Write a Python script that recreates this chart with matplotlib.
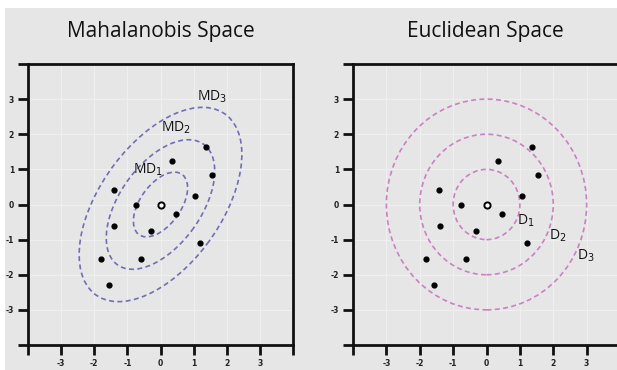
"""Mahalanobis vs Euclidean distance sketch."""
import numpy as np
from matplotlib import pyplot as plt
from matplotlib.patches import Ellipse, Rectangle

# sample points (same in both panels)
pts_x = [-1.41, -0.75, 1.05, 0.47, -1.40, -0.30, 1.20, -1.81, -0.60, -1.56, 0.35, 1.36, 1.54]
pts_y = [0.40, 0.00, 0.23, -0.28, -0.61, -0.76, -1.10, -1.54, -1.54, -2.29, 1.23, 1.63, 0.83]
center = (0.0, 0.0)

# covariance used for the Mahalanobis contours
cov = [[0.67, 0.39], [0.39, 0.85]]
levels = [1, 2, 3]

md_labels = ["MD$_1$", "MD$_2$", "MD$_3$"]
md_label_x = [-0.38, 0.47, 1.56]
md_label_y = [0.99, 2.18, 3.06]

d_labels = ["D$_1$", "D$_2$", "D$_3$"]
d_label_x = [1.19, 2.14, 2.99]
d_label_y = [-0.47, -0.90, -1.46]

ticks = [-4, -3, -2, -1, 0, 1, 2, 3, 4]
tick_labels = ["", "-3", "-2", "-1", "0", "1", "2", "3", ""]

BG = "#e6e6e6"
MD_COLOR = "#6f6fb4"
D_COLOR = "#cc80c4"
TITLE_FONT = ["Open Sans", "DejaVu Sans"]

fig = plt.figure(figsize=(6.17, 3.70), dpi=100, facecolor="white")
fig.patches.append(Rectangle((5 / 617, 0), 1, 1 - 8 / 370, transform=fig.transFigure,
                             facecolor=BG, edgecolor="none", zorder=-10))

ax_m = fig.add_axes([28 / 617, 1 - 345 / 370, 265 / 617, 281 / 370])
ax_e = fig.add_axes([353 / 617, 1 - 345 / 370, 267 / 617, 281 / 370])


def style_axes(ax):
    """Common look for both panels."""
    ax.set_facecolor(BG)
    ax.set_xlim(-4, 4)
    ax.set_ylim(-4, 4)
    ax.set_xticks(ticks)
    ax.set_yticks(ticks)
    ax.set_xticklabels(tick_labels)
    ax.set_yticklabels(tick_labels)
    ax.tick_params(length=7, width=2, color="#111111", labelsize=5.5, pad=3,
                   direction="out")
    for lab in ax.get_xticklabels() + ax.get_yticklabels():
        lab.set_fontweight("bold")
        lab.set_color("#222222")
    for sp in ax.spines.values():
        sp.set_linewidth(2)
        sp.set_color("#111111")
    ax.grid(True, color="#efefef", lw=0.8)
    ax.set_axisbelow(True)


def draw_points(ax):
    """Scatter the sample and the open centre point."""
    ax.scatter(pts_x, pts_y, s=12, color="black", zorder=3)
    ax.scatter(*center, s=20, facecolor="white", edgecolor="black", lw=1.4, zorder=3)


style_axes(ax_m)
style_axes(ax_e)

vals, vecs = np.linalg.eigh(np.array(cov))
angle = np.degrees(np.arctan2(vecs[1, 1], vecs[0, 1]))
for k in levels:
    ax_m.add_patch(Ellipse(center, 2 * k * np.sqrt(vals[1]), 2 * k * np.sqrt(vals[0]),
                           angle=angle, fill=False, ec=MD_COLOR, lw=1.2,
                           ls=(0, (3, 2))))
for k in levels:
    ax_e.add_patch(Ellipse(center, 2 * k, 2 * k, fill=False, ec=D_COLOR, lw=1.2,
                           ls=(0, (3, 2))))

draw_points(ax_m)
draw_points(ax_e)

for txt, x, y in zip(md_labels, md_label_x, md_label_y):
    ax_m.text(x, y, txt, ha="center", va="center", fontsize=10, family=TITLE_FONT,
              weight="medium", color="#111111")
for txt, x, y in zip(d_labels, d_label_x, d_label_y):
    ax_e.text(x, y, txt, ha="center", va="center", fontsize=10, family=TITLE_FONT,
              weight="medium", color="#111111")

fig.text(161 / 617, 1 - 32 / 370, "Mahalanobis Space", ha="center", va="center",
         fontsize=15, family=TITLE_FONT, weight="medium", color="#111111")
fig.text(485 / 617, 1 - 32 / 370, "Euclidean Space", ha="center", va="center",
         fontsize=15, family=TITLE_FONT, weight="medium", color="#111111")

fig.savefig("out.png", dpi=100, facecolor="white")
